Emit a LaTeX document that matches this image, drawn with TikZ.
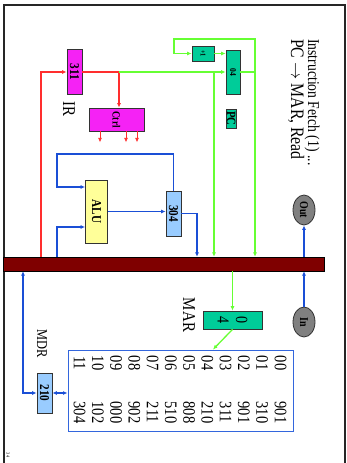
\documentclass[tikz,border=0pt]{standalone}
\usepackage{fontspec}
\setmainfont[FakeStretch=0.83]{Liberation Serif}
\usetikzlibrary{positioning,arrows.meta,shapes.geometric}
\definecolor{cpugreen}{HTML}{00CC99}
\definecolor{cpumag}{HTML}{F522F5}
\definecolor{cpuyellow}{HTML}{FFFF99}
\definecolor{cpublue}{HTML}{99CCFF}
\definecolor{cpubus}{HTML}{7F0000}
\definecolor{cpugray}{HTML}{808080}
\definecolor{wirered}{HTML}{FF2E2E}
\definecolor{wiregreen}{HTML}{66FF33}
\definecolor{wireblue}{HTML}{1A4FD6}
\definecolor{memblue}{HTML}{3366DD}
\newcommand{\fs}[1]{\fontsize{#1}{#1}\selectfont}
\tikzset{
  reg/.style     ={draw=black!80,line width=0.8pt,rotate=-90,inner sep=0pt,font=\bfseries\fs{13.5},align=center},
  pcreg/.style   ={reg,fill=cpugreen},
  irreg/.style   ={reg,fill=cpumag},
  accreg/.style  ={reg,fill=cpublue},
  alureg/.style  ={reg,fill=cpuyellow},
  port/.style    ={ellipse,draw=black!80,line width=0.8pt,fill=cpugray,rotate=-90,inner sep=0pt,font=\bfseries\fs{12}},
  lbl/.style     ={rotate=-90,inner sep=0pt,font=\fs{18}},
  memtxt/.style  ={rotate=-90,inner sep=0pt,font=\fs{17.5}},
  wire/.style    ={line width=1.3pt},
  arr/.style     ={wire,-{Latex[length=4.5pt,width=4pt]}},
  redarr/.style  ={arr,draw=wirered},
  greenarr/.style={arr,draw=wiregreen},
  bluearr/.style ={arr,draw=wireblue},
  bluedarr/.style={wire,draw=wireblue,{Latex[length=4.5pt,width=4pt]}-{Latex[length=4.5pt,width=4pt]}},
}

\begin{document}
\begin{tikzpicture}[x=1pt,y=-1pt]
  \useasboundingbox (0,0) rectangle (347,463);
  \draw[black!85,line width=1.2pt] (4,5) rectangle (345,470);
  % title
  \node[lbl,anchor=base west,font=\fs{16.5}] (title) at (308,39) {Instruction Fetch (1) ...};
  \node[lbl,anchor=base west,font=\fs{19}] (subtitle) at (291,39) {PC $\rightarrow$ MAR, Read};

  % registers and units
  \node[pcreg,minimum width=15pt,minimum height=22pt,font=\bfseries\fs{7.5}] (inc) at (203,53.5) {+1};
  \node[pcreg,minimum width=44pt,minimum height=14pt,font=\bfseries\fs{9}] (pc) at (233,72) {04};
  \node[pcreg,minimum width=19pt,minimum height=10pt,font=\bfseries\fs{13}] (pclbl) at (231,118.5) {PC};
  \node[irreg,minimum width=45pt,minimum height=15pt] (ir) at (74.5,72) {311};
  \node[lbl] (irlbl) at (69,109) {IR};
  \node[irreg,minimum width=23pt,minimum height=55pt,font=\bfseries\fs{11}] (ctrl) at (116.5,119.5) {Ctrl};
  \node[alureg,minimum width=63pt,minimum height=22pt] (alu) at (96.5,211.5) {ALU};
  \node[accreg,minimum width=45pt,minimum height=15pt] (acc) at (173.5,213.5) {304};
  \node[port,minimum width=30pt,minimum height=22pt] (out) at (304,210) {Out};
  \node[port,minimum width=30pt,minimum height=22pt] (in) at (304,322) {In};
  \node[draw=black,fill=cpubus,minimum width=321pt,minimum height=14pt,inner sep=0pt] (bus) at (163.5,264) {};
  \node[pcreg,minimum width=18pt,minimum height=59pt,font=\fontsize{17}{18.5}\selectfont] (mar) at (232.5,320) {0\\4};
  \node[lbl] (marlbl) at (189,315) {MAR};
  \node[draw=memblue,line width=1pt,minimum width=225pt,minimum height=81pt,inner sep=0pt] (mem) at (180.5,390.5) {};
  \node[accreg,minimum width=40pt,minimum height=15pt] (mdr) at (44.5,393) {210};
  \node[lbl,font=\fs{15}] (mdrlbl) at (42,343.5) {MDR};
  \node[lbl,font=\fs{5}] (page) at (8,455) {34};

  % memory contents
  \foreach \addr/\val [count=\i from 0] in {00/901,01/310,02/901,03/311,04/210,05/808,06/510,07/211,08/902,09/000,10/102,11/304}{
    \node[memtxt] (addr\i) at ({280.5-18.27*\i},363) {\addr};
    \node[memtxt] (val\i) at ({280.5-18.27*\i},412.5) {\val};
  }

  % routing points
  \coordinate (irbus) at (41,0);
  \coordinate (split) at (119,72);
  \coordinate (pcbus) at (214,72);
  \coordinate (looptop) at (255,39);
  \coordinate (loopleft) at (174,39);
  \coordinate (accup) at (57,154);
  \coordinate (accbus) at (197,0);
  \coordinate (mdrx) at (23,0);

  % red: IR and control
  \draw[redarr] (irbus |- bus.north) |- (ir.south);
  \draw[wire,draw=wirered] (ir.north) -- (split);
  \draw[redarr] (split) -- (split |- ctrl.west);
  \foreach \dx in {-16.5,9.5,20.5}
    \draw[redarr,line width=0.8pt] ([xshift=\dx pt]ctrl.east) -- ++(0,11);

  % green: PC and MAR
  \draw[greenarr] (split) -- (pc.south);
  \draw[greenarr] (pcbus) -- (pcbus |- bus.north);
  \draw[greenarr] (pc.north) -| (looptop) -- (loopleft) |- (inc.south);
  \draw[greenarr] (looptop) -- (looptop |- bus.north);
  \draw[greenarr] (inc.north) -- (inc.north -| pc.south);
  \draw[greenarr] (bus.south -| mar.west) -- (mar.west);
  \draw[greenarr] (mar.east) -- ([xshift=32.5pt]mem.north);

  % blue: ALU, accumulator, I/O, MDR
  \draw[bluearr] (acc.west) |- (accup) |- ([yshift=24.5pt]alu.south);
  \draw[bluearr] (accup |- bus.north) |- ([yshift=-15.5pt]alu.south);
  \draw[bluearr] (alu.north) -- (alu.north -| acc.south);
  \draw[bluearr] (acc.north) -| (accbus |- bus.north);
  \draw[bluearr] (out.east |- bus.north) -- (out.east);
  \draw[bluearr] (in.west) -- (in.west |- bus.south);
  \draw[bluedarr] (bus.south -| mdrx) |- (mdr.south);
  \draw[bluedarr] (mdr.north) -- (mdr.north -| mem.west);
\end{tikzpicture}
\end{document}
